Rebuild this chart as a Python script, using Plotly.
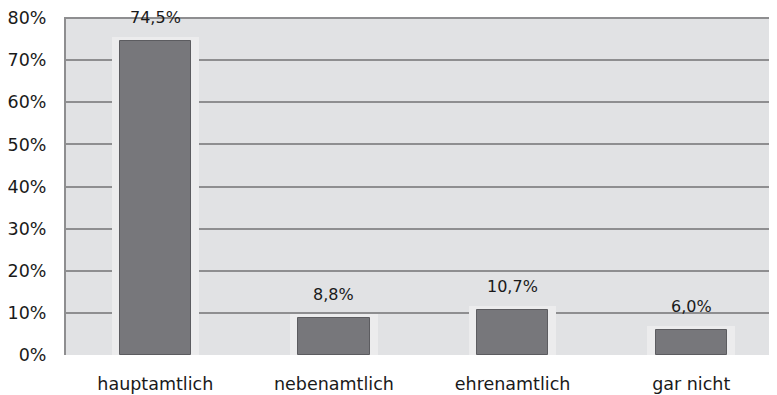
import plotly.graph_objects as go

kategorien = ["hauptamtlich", "nebenamtlich", "ehrenamtlich", "gar nicht"]
anteile = [74.5, 8.8, 10.7, 6.0]
beschriftung = ["74,5%", "8,8%", "10,7%", "6,0%"]
y_ticks = [0, 10, 20, 30, 40, 50, 60, 70, 80]
y_ticktext = ["0%", "10%", "20%", "30%", "40%", "50%", "60%", "70%", "80%"]

schrift = "'DejaVu Sans', sans-serif"
x = list(range(len(kategorien)))

fig = go.Figure()
# heller Schein um die Balken
fig.add_trace(go.Bar(x=x, y=[v + 1.0 for v in anteile], width=0.49,
                     marker=dict(color="#ececed", line=dict(width=0)),
                     hoverinfo="skip", showlegend=False))
fig.add_trace(go.Bar(x=x, y=anteile, width=0.40,
                     marker=dict(color="#77777b", line=dict(color="#5c5c60", width=1)),
                     showlegend=False))

for xi, v, t in zip(x, anteile, beschriftung):
    fig.add_annotation(x=xi, y=v, text=t, showarrow=False, yanchor="bottom",
                       yshift=12, font=dict(family=schrift, size=16, color="#1a1a1a"))

# Seite hat 8px Rand im Browser -> Maße entsprechend
fig.update_layout(
    width=769, height=387,
    margin=dict(l=55, r=0, t=6, b=40),
    paper_bgcolor="white", plot_bgcolor="#e1e2e4",
    barmode="overlay", bargap=0,
    font=dict(family=schrift, size=17, color="#1a1a1a"),
    showlegend=False,
)
fig.update_xaxes(range=[-0.5, 3.48], tickvals=x, ticktext=kategorien,
                 showgrid=False, zeroline=False, ticks="outside", ticklen=13,
                 tickcolor="rgba(0,0,0,0)", tickfont=dict(size=17.5))
fig.update_yaxes(range=[0, 80.25], tickvals=y_ticks, ticktext=y_ticktext,
                 showgrid=True, gridcolor="#8e8e90", gridwidth=2,
                 zeroline=False, showline=True, linecolor="#8e8e90", linewidth=2,
                 ticks="outside", ticklen=14, tickcolor="rgba(0,0,0,0)",
                 ticklabeloverflow="allow", tickfont=dict(size=17.5))

fig.write_html("out.html")
